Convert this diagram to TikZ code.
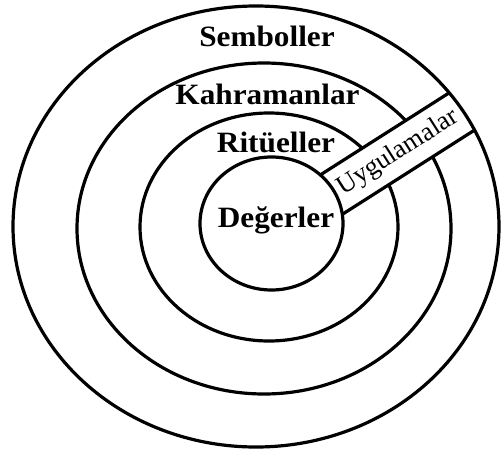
\documentclass[tikz,border=0pt]{standalone}
\usepackage{fontspec}
\setmainfont{Liberation Serif}
\usetikzlibrary{calc}
\tikzset{
  ring/.style={draw=black, line width=3.2pt},
  layer/.style={font=\fontsize{29.5}{34}\selectfont\bfseries, text=black, anchor=base,
    inner sep=0pt, xscale=1.06, transform shape},
  bandtext/.style={font=\fontsize{26.5}{31}\selectfont, text=black, inner sep=0pt, rotate=32.5},
  bandline/.style={draw=black, line width=3.2pt}
}

\begin{document}
\begin{tikzpicture}[x=1pt,y=-1pt]
  \useasboundingbox (0,0) rectangle (501,453);

  % middle rings
  \draw[ring] (264,228.5) ellipse [x radius=187, y radius=165.5];
  \draw[ring] (269,227) ellipse [x radius=129, y radius=114];

  % practices band, cut by the outer ring
  \coordinate (lowA) at (286,250.2);
  \coordinate (lowB) at (538.9,89.1);
  \coordinate (upA) at (261.8,212.2);
  \coordinate (upB) at (514.7,51.1);
  \begin{scope}
    \clip (256,226.5) ellipse [x radius=243, y radius=220.5];
    \fill[white] (lowA) -- (lowB) -- (upB) -- (upA) -- cycle;
    \draw[bandline] (lowA) -- (lowB);
    \draw[bandline] (upA) -- (upB);
  \end{scope}

  % inner and outer rings
  \draw[ring, fill=white] (271.5,223.5) ellipse [x radius=71.5, y radius=66.5];
  \draw[ring] (256,226.5) ellipse [x radius=243, y radius=220.5];

  \node[layer] (semboller) at (267,46) {Semboller};
  \node[layer] (kahraman) at (267.5,104) {Kahramanlar};
  \node[layer] (rituel) at (276,152) {Ritüeller};
  \node[layer] (deger) at (276,227) {Değerler};
  \node[bandtext] (uygulama) at (398,152.5) {Uygulamalar};
\end{tikzpicture}
\end{document}
